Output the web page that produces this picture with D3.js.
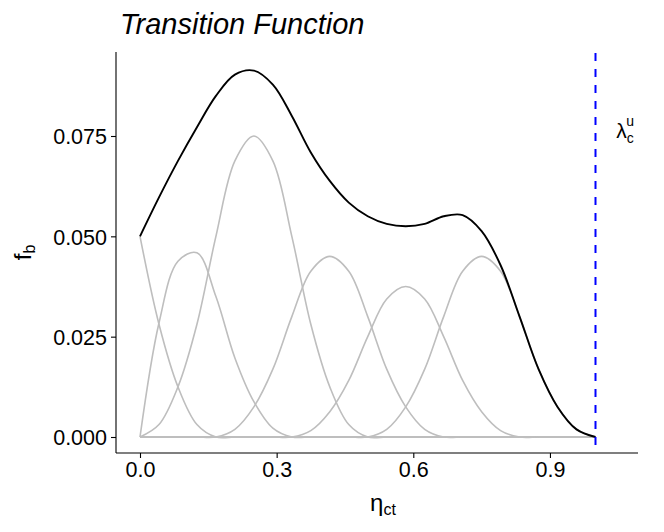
<!DOCTYPE html>
<html>
<head>
<meta charset="utf-8">
<script src="https://cdn.jsdelivr.net/npm/d3@7"></script>
<style>
  html, body { margin: 0; padding: 0; background: #ffffff; }
  svg { display: block; }
  text { font-family: "Liberation Sans", Arial, Helvetica, sans-serif; }
</style>
</head>
<body>
<svg id="chart" width="664" height="532"></svg>
<script>
// ---- data ----
const eta = [0, 1/24, 2/24, 3/24, 4/24, 5/24, 6/24, 7/24, 8/24, 9/24, 10/24, 11/24, 12/24,
             13/24, 14/24, 15/24, 16/24, 17/24, 18/24, 19/24, 20/24, 21/24, 22/24, 23/24, 1];
const basis1 = [0.05, 0.0281, 0.0125, 0.0031, 0, 0, 0, 0, 0, 0, 0, 0, 0, 0, 0, 0, 0, 0, 0, 0, 0, 0, 0, 0, 0];
const basis2 = [0, 0.0284, 0.0438, 0.0459, 0.035, 0.0197, 0.0088, 0.0022, 0, 0, 0, 0, 0, 0, 0, 0, 0, 0, 0, 0, 0, 0, 0, 0, 0];
const basis3 = [0, 0.0031, 0.0125, 0.0281, 0.05, 0.0688, 0.075, 0.0688, 0.05, 0.0281, 0.0125, 0.0031, 0, 0, 0, 0, 0, 0, 0, 0, 0, 0, 0, 0, 0];
const basis4 = [0, 0, 0, 0, 0, 0.0019, 0.0075, 0.0169, 0.03, 0.0413, 0.045, 0.0413, 0.03, 0.0169, 0.0075, 0.0019, 0, 0, 0, 0, 0, 0, 0, 0, 0];
const basis5 = [0, 0, 0, 0, 0, 0, 0, 0, 0, 0.0016, 0.0063, 0.0141, 0.025, 0.0344, 0.0375, 0.0344, 0.025, 0.0141, 0.0063, 0.0016, 0, 0, 0, 0, 0];
const basis6 = [0, 0, 0, 0, 0, 0, 0, 0, 0, 0, 0, 0, 0, 0.0019, 0.0075, 0.0169, 0.03, 0.0413, 0.045, 0.0413, 0.03, 0.0169, 0.0075, 0.0019, 0];
const basis7 = [0, 0, 0, 0, 0, 0, 0, 0, 0, 0, 0, 0, 0, 0, 0, 0, 0, 0, 0, 0, 0, 0, 0, 0, 0];
const basis8 = [0, 0, 0, 0, 0, 0, 0, 0, 0, 0, 0, 0, 0, 0, 0, 0, 0, 0, 0, 0, 0, 0, 0, 0, 0];
const total  = [0.05, 0.0597, 0.0688, 0.0772, 0.085, 0.0903, 0.0913, 0.0878, 0.08, 0.0709, 0.0638, 0.0584, 0.055,
                0.0531, 0.0525, 0.0531, 0.055, 0.0553, 0.0513, 0.0428, 0.03, 0.0169, 0.0075, 0.0019, 0];
const upperBound = 1.0;
const xTicks = [0, 0.3, 0.6, 0.9];
const yTicks = [0, 0.025, 0.05, 0.075];
const labelX = 1.065;
const labelY = 0.0745;

// ---- layout ----
const svg = d3.select("#chart");
const panel = { left: 116, right: 638, top: 52, bottom: 453 };

const x = d3.scaleLinear().domain([0, 1]).range([140, 595.5]);
const y = d3.scaleLinear().domain([0, 0.075]).range([437, 136]);

// axes
const xAxis = d3.axisBottom(x).tickValues(xTicks).tickFormat(d3.format(".1f")).tickSize(5).tickPadding(4);
const yAxis = d3.axisLeft(y).tickValues(yTicks).tickFormat(d3.format(".3f")).tickSize(5).tickPadding(4);

const gx = svg.append("g").attr("transform", `translate(0,${panel.bottom})`).call(xAxis);
const gy = svg.append("g").attr("transform", `translate(${panel.left},0)`).call(yAxis);

gx.select(".domain").remove();
gy.select(".domain").remove();
svg.append("line").attr("x1", panel.left).attr("x2", panel.right)
  .attr("y1", panel.bottom).attr("y2", panel.bottom)
  .attr("stroke", "#000").attr("stroke-width", 1.1);
svg.append("line").attr("x1", panel.left).attr("x2", panel.left)
  .attr("y1", panel.top).attr("y2", panel.bottom)
  .attr("stroke", "#000").attr("stroke-width", 1.1);

[gx, gy].forEach(g => {
  g.selectAll(".tick line").attr("stroke", "#000").attr("stroke-width", 1.1);
  g.selectAll(".tick text").attr("fill", "#000").attr("font-size", 21.5)
    .attr("font-family", "'Liberation Sans', Arial, Helvetica, sans-serif");
});
gx.selectAll(".tick text").attr("dy", "0.71em");
gy.selectAll(".tick text").attr("dy", "0.36em");

// curves
const line = d3.line()
  .x((d, i) => x(eta[i]))
  .y(d => y(d))
  .curve(d3.curveCatmullRom.alpha(0.5));

const bases = [basis1, basis2, basis3, basis4, basis5, basis6, basis7, basis8];
svg.append("g").selectAll("path").data(bases).join("path")
  .attr("d", d => line(d))
  .attr("fill", "none")
  .attr("stroke", "#BEBEBE")
  .attr("stroke-width", 1.6);

svg.append("path")
  .attr("d", line(total))
  .attr("fill", "none")
  .attr("stroke", "#000")
  .attr("stroke-width", 1.9);

// dashed vertical line
svg.append("line")
  .attr("x1", x(upperBound)).attr("x2", x(upperBound))
  .attr("y1", panel.top).attr("y2", panel.bottom)
  .attr("stroke", "#0000FF").attr("stroke-width", 2)
  .attr("stroke-dasharray", "8,8")
  .attr("stroke-dashoffset", -1);

// lambda label
const lam = svg.append("text")
  .attr("x", x(labelX)).attr("y", y(labelY))
  .attr("font-size", 21).attr("text-anchor", "middle").attr("fill", "#000");
lam.append("tspan").text("λ");
lam.append("tspan").attr("font-size", 14).attr("dy", 5).text("c");
lam.append("tspan").attr("font-size", 14).attr("dx", -7.5).attr("dy", -17).text("u");

// title
svg.append("text")
  .attr("x", 120).attr("y", 34)
  .attr("font-size", 29).attr("font-style", "italic").attr("fill", "#000")
  .text("Transition Function");

// x axis title
const xt = svg.append("text")
  .attr("x", 383).attr("y", 511)
  .attr("font-size", 24).attr("text-anchor", "middle").attr("fill", "#000");
xt.append("tspan").text("η");
xt.append("tspan").attr("font-size", 16).attr("dy", 4).text("ct");

// y axis title
const yt = svg.append("text")
  .attr("transform", `translate(31,${(panel.top + panel.bottom) / 2}) rotate(-90)`)
  .attr("font-size", 24).attr("text-anchor", "middle").attr("fill", "#000");
yt.append("tspan").text("f");
yt.append("tspan").attr("font-size", 16).attr("dy", 4).text("b");
</script>
</body>
</html>
